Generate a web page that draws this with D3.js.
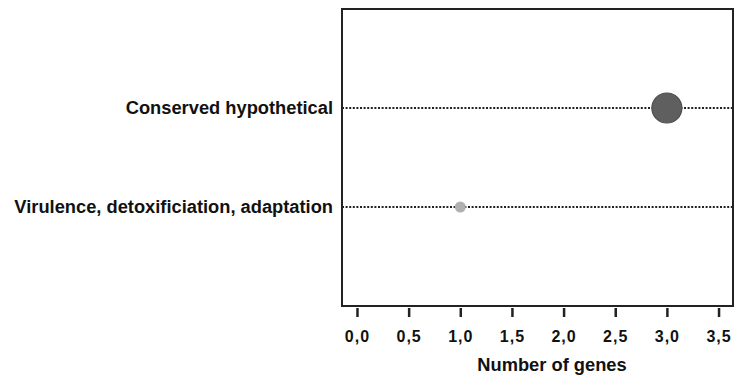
<!DOCTYPE html>
<html>
<head>
<meta charset="utf-8">
<script src="https://cdn.jsdelivr.net/npm/d3@7"></script>
<style>
  body { margin: 0; background: #fff; }
  text { font-family: "Liberation Sans", Arial, sans-serif; font-weight: bold; fill: #111; }
</style>
</head>
<body>
<svg id="chart" width="734" height="376"></svg>
<script>
const categories = ['Conserved hypothetical', 'Virulence, detoxificiation, adaptation'];
const genes      = [3, 1];
const ticks      = [0, 0.5, 1, 1.5, 2, 2.5, 3, 3.5];

const option =
  {
    box:   { left: 342, top: 9, right: 733, bottom: 306 },
    x:     { min: -0.145, max: 3.64 },
    radius: 5,
    color: { low: '#b0b0b0', high: '#5f5f5f' }
  };

const svg = d3.select('#chart');

const x = d3.scaleLinear()
  .domain([option.x.min, option.x.max])
  .range([option.box.left, option.box.right]);

const y = d3.scalePoint()
  .domain(categories)
  .range([option.box.top, option.box.bottom])
  .padding(1);

const r = d3.scaleLinear().domain([0, 1]).range([0, option.radius]);

const fill = d3.scaleLinear()
  .domain([1, 3])
  .range([option.color.low, option.color.high]);

const data = categories.map((c, i) => ({ name: c, value: genes[i] }));

// dotted guide lines
svg.append('g')
  .selectAll('line')
  .data(data)
  .join('line')
    .attr('x1', option.box.left)
    .attr('x2', option.box.right)
    .attr('y1', d => y(d.name))
    .attr('y2', d => y(d.name))
    .attr('stroke', '#222')
    .attr('stroke-width', 2)
    .attr('stroke-dasharray', '2,1.6');

// points
svg.append('g')
  .selectAll('circle')
  .data(data)
  .join('circle')
    .attr('cx', d => x(d.value))
    .attr('cy', d => y(d.name))
    .attr('r', d => r(d.value) + (d.value > 1 ? 0 : 0.5))
    .attr('fill', d => fill(d.value))
    .attr('stroke', d => d3.color(fill(d.value)).darker(0.6))
    .attr('stroke-width', d => d.value > 1 ? 1.2 : 0);

// frame
svg.append('rect')
  .attr('x', option.box.left)
  .attr('y', option.box.top)
  .attr('width', option.box.right - option.box.left)
  .attr('height', option.box.bottom - option.box.top)
  .attr('fill', 'none')
  .attr('stroke', '#222')
  .attr('stroke-width', 2);

// category labels
svg.append('g')
  .selectAll('text')
  .data(categories)
  .join('text')
    .text(d => d)
    .attr('x', option.box.left - 9)
    .attr('y', d => y(d))
    .attr('dy', '0.35em')
    .attr('text-anchor', 'end')
    .attr('font-size', 18.3);

// x axis
const axis = svg.append('g')
  .attr('transform', `translate(0 ${ option.box.bottom + 2 })`)
  .call(d3.axisBottom(x).tickValues(ticks).tickSize(9).tickPadding(14)
    .tickFormat(d => d3.format('.1f')(d).replace('.', ',')));

axis.select('.domain').remove();
axis.selectAll('.tick line').attr('stroke', '#222').attr('stroke-width', 2.5);
axis.selectAll('.tick text').attr('font-size', 16).attr('letter-spacing', 1).attr('fill', '#222');

svg.append('text')
  .text('Number of genes')
  .attr('x', 552)
  .attr('y', 371)
  .attr('text-anchor', 'middle')
  .attr('font-size', 18.3);
</script>
</body>
</html>
